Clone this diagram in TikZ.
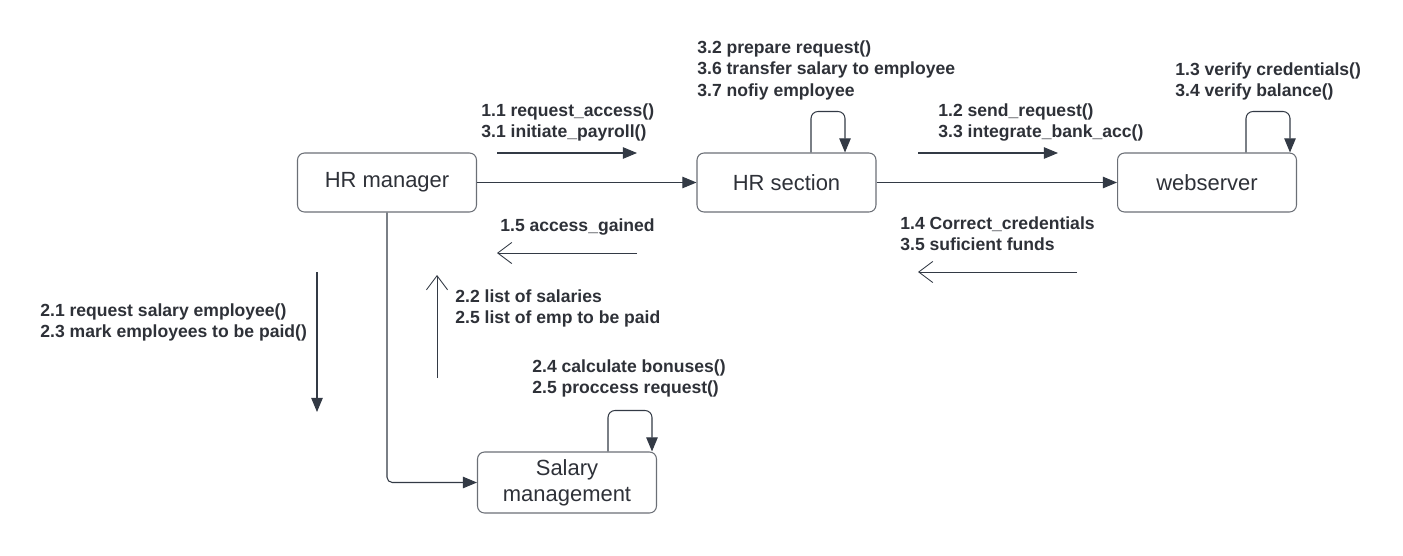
\documentclass[tikz,border=0pt]{standalone}
\usepackage{fontspec}
\setmainfont{Liberation Sans}
\usetikzlibrary{positioning}
\usetikzlibrary{arrows.meta}

\definecolor{linecol}{HTML}{333A45}
\definecolor{boxcol}{HTML}{6B6F76}
\definecolor{txtcol}{HTML}{2E3138}

\begin{document}
\begin{tikzpicture}[x=0.02cm, y=-0.02cm,
        obj/.style={draw=boxcol, line width=0.6pt, rounded corners=4pt,
                    minimum width=3.58cm, minimum height=1.18cm,
                    text=txtcol, align=center,
                    font=\fontsize{12.5}{15}\selectfont},
        msg/.style={text=txtcol, align=left, anchor=north west, inner sep=0pt,
                    font=\bfseries\fontsize{10}{12.3}\selectfont},
        link/.style={draw=linecol, line width=0.6pt,
                     -{Triangle[length=8pt,width=6.5pt]}},
        reply/.style={draw=linecol, line width=0.5pt,
                      -{Straight Barb[length=8pt,width=12pt]}},
        ]

        \useasboundingbox (0,0) rectangle (1403,555);

        % objects
        \node (manager) [obj] at (387,182.5) {HR manager};
        \node (section) [obj] at (786.5,182.5) {HR section};
        \node (server)  [obj] at (1207,182.5) {webserver};
        \node (salary)  [obj, minimum height=1.22cm] at (567,482.5) {Salary\\management};

        % links
        \draw [link] (manager) -- (section);
        \draw [link] (section) -- (server);
        \draw [link, rounded corners=3pt] (manager.south) |- (salary.west);

        % self loops
        \draw [link, rounded corners=4pt] (section.north) ++(24.5,0) -- ++(0,-41) -- ++(34,0) -- ++(0,41);
        \draw [link, rounded corners=4pt] (server.north) ++(39,0) -- ++(0,-41) -- ++(44,0) -- ++(0,41);
        \draw [link, rounded corners=4pt] (salary.north) ++(41,0) -- ++(0,-41) -- ++(44,0) -- ++(0,41);

        % message arrows
        \coordinate (req1a) at (497,153);
        \coordinate (req1b) at (637,153);
        \coordinate (req2a) at (918,153);
        \coordinate (req2b) at (1058,153);
        \coordinate (ans1a) at (637,253);
        \coordinate (ans1b) at (497,253);
        \coordinate (ans2a) at (1077,272);
        \coordinate (ans2b) at (918,272);
        \coordinate (down1a) at (317,272);
        \coordinate (down1b) at (317,412);
        \coordinate (up1a) at (437,378);
        \coordinate (up1b) at (437,275);

        \draw [link] (req1a) -- (req1b);
        \draw [link] (req2a) -- (req2b);
        \draw [link] (down1a) -- (down1b);
        \draw [reply] (ans1a) -- (ans1b);
        \draw [reply] (ans2a) -- (ans2b);
        \draw [reply] (up1a) -- (up1b);

        % messages
        \node (msg11) [msg] at (481,103) {1.1 request\_access()\\3.1 initiate\_payroll()};
        \node (msg12) [msg] at (938,103) {1.2 send\_request()\\3.3 integrate\_bank\_acc()};
        \node (msg13) [msg] at (1175,62) {1.3 verify credentials()\\3.4 verify balance()};
        \node (msg32) [msg] at (697,40) {3.2 prepare request()\\3.6 transfer salary to employee\\3.7 nofiy employee};
        \node (msg15) [msg] at (500,218) {1.5 access\_gained};
        \node (msg14) [msg] at (900,216) {1.4 Correct\_credentials\\3.5 suficient funds};
        \node (msg22) [msg] at (455,289) {2.2 list of salaries\\2.5 list of emp to be paid};
        \node (msg21) [msg] at (40,303) {2.1 request salary employee()\\2.3 mark employees to be paid()};
        \node (msg24) [msg] at (532,359) {2.4 calculate bonuses()\\2.5 proccess request()};

\end{tikzpicture}
\end{document}
